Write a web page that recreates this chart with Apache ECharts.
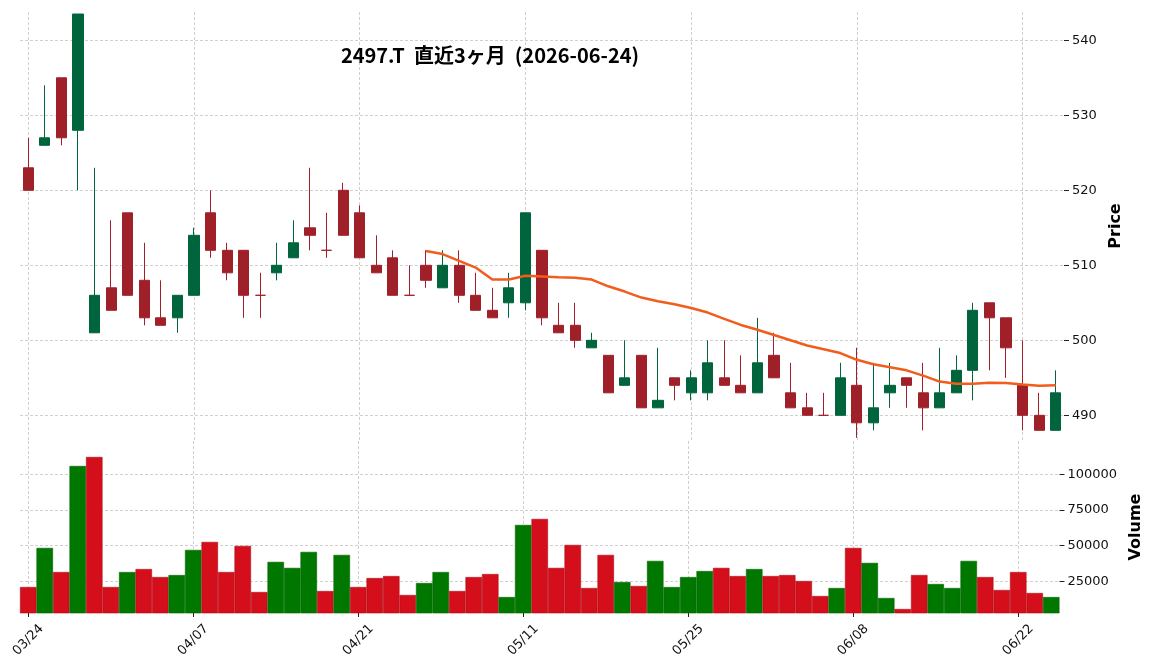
<!DOCTYPE html>
<html>
<head>
<meta charset="utf-8">
<script src="https://cdn.jsdelivr.net/npm/echarts@6/dist/echarts.min.js"></script>
<style>
html,body{margin:0;padding:0;background:#ffffff;}
#chart{width:1152px;height:670px;}
</style>
</head>
<body>
<div id="chart"></div>
<script>
// ---- data ----
const dates = ['03/24','03/25','03/26','03/27','03/30','03/31','04/01','04/02','04/03','04/06',
  '04/07','04/08','04/09','04/10','04/13','04/14','04/15','04/16','04/17','04/20',
  '04/21','04/22','04/23','04/24','04/27','04/28','04/30','05/01','05/07','05/08',
  '05/11','05/12','05/13','05/14','05/15','05/18','05/19','05/20','05/21','05/22',
  '05/25','05/26','05/27','05/28','05/29','06/01','06/02','06/03','06/04','06/05',
  '06/08','06/09','06/10','06/11','06/12','06/15','06/16','06/17','06/18','06/19',
  '06/22','06/23','06/24'];

const openP  = [523,526,535,528,501,507,517,508,503,503,
  506,517,512,512,506,509,511,515,512,520,
  517,510,511,506,510,507,510,506,504,505,
  505,512,502,502,499,498,494,498,491,495,
  493,493,495,494,493,498,493,491,490,490,
  494,489,493,495,493,491,493,496,505,503,
  494,490,488];
const closeP = [520,527,527,543.5,506,504,506,503,502,506,
  514,512,509,506,506,510,513,514,512,514,
  511,509,506,506,508,510,506,504,503,507,
  517,503,501,500,500,493,495,491,492,494,
  495,497,494,493,497,495,491,490,490,495,
  489,491,494,494,491,493,496,504,503,499,
  490,488,493];
const lowP   = [520,526,526,520,501,504,506,502,502,501,
  506,511,508,503,503,508,511,512,511,514,
  511,509,506,506,507,507,505,504,503,503,
  504,502,501,499,499,493,494,491,491,492,
  492,492,494,493,493,495,491,490,490,490,
  487,488,491,491,488,491,493,492,496,495,
  488,488,488];
const highP  = [527,534,535,543.5,523,516,517,513,508,506,
  515,520,513,512,509,513,516,523,517,521,
  518,514,512,510,512,512,512,509,507,509,
  517,512,505,505,501,498,500,498,499,495,
  496,500,500,498,503,501,497,493,493,497,
  499,497,497,495,497,499,498,505,505,503,
  500,493,496];
const volume = [21000,48400,31500,105800,112100,21000,31500,33600,28000,29400,
  47000,52600,31500,49800,17500,38600,34400,45600,18200,43500,
  21000,27300,28700,15400,23800,31500,18200,28000,30100,14000,
  64500,68700,34400,50500,20300,43500,24500,21700,39300,21000,
  28000,32200,34400,28700,33600,28700,29400,25200,14700,20300,
  48400,37900,13300,5600,29400,23100,20300,39300,28000,18900,
  31500,16800,14000];
const maStart = 24;   // first date index that has a 25-day average
const ma25 = [511.9,511.5,510.6,509.7,508.1,508.1,508.6,508.5,508.4,508.35,
  508.1,507.2,506.5,505.7,505.2,504.8,504.3,503.7,502.85,502.05,
  501.4,500.7,500.0,499.3,498.8,498.3,497.4,496.8,496.4,496.0,
  495.3,494.5,494.2,494.2,494.35,494.3,494.1,493.95,494.0];
const priceTicks  = [490,500,510,520,530,540];
const volumeTicks = [25000,50000,75000,100000];
const titleText = '2497.T  直近3ヶ月  (2026-06-24)';

// ---- styling ----
const UP = '#00643c', DOWN = '#a0202a';
const VUP = '#007800', VDOWN = '#d40e1a';
const MA_COLOR = '#f25c1c';
const GRID_LINE = {color:'#c4c4c4', type:[3,2], width:0.8};
const FONT = 'DejaVu Sans';

const candleData = dates.map((d,i) => {
  const item = {value:[openP[i], closeP[i], lowP[i], highP[i]]};
  if (openP[i] === closeP[i]) item.itemStyle = {color: DOWN, color0: DOWN, borderColor: DOWN, borderColor0: DOWN};
  return item;
});
const volData = volume.map((v,i) => {
  const up = i > 0 && closeP[i] > closeP[i-1];
  return {value: v, itemStyle:{color: up ? VUP : VDOWN, borderColor: up ? '#006200' : '#b00b15'}};
});
const maData = dates.map((d,i) => (i >= maStart ? ma25[i - maStart] : null));

const chart = echarts.init(document.getElementById('chart'), null, {renderer:'canvas'});
const option = {
  animation: false,
  backgroundColor: '#ffffff',
  graphic: [{
    type: 'text', x: 490, y: 55, z: 100,
    style: {text: titleText, align: 'center', verticalAlign: 'middle',
      font: 'bold 20px "Noto Sans CJK JP"', fill: '#000000'}
  }],
  grid: [
    {left: 20, width: 1044, top: 12, height: 428},
    {left: 20, width: 1044, top: 441, height: 172}
  ],
  xAxis: [
    {type:'category', gridIndex:0, data: dates, boundaryGap: true,
      axisLine:{show:false}, axisTick:{show:false}, axisLabel:{show:false},
      splitLine:{show:true, interval: 9, alignWithLabel: true, lineStyle: GRID_LINE}},
    {type:'category', gridIndex:1, data: dates, boundaryGap: true,
      axisLine:{show:false},
      axisTick:{show:true, interval: 9, alignWithLabel: true, length: 4, lineStyle:{color:'#222', width:1}},
      axisLabel:{show:true, interval: 9, rotate: 45, align:'center', verticalAlign:'middle', margin: 27,
        fontFamily: FONT, fontSize: 13, color:'#111'},
      splitLine:{show:true, interval: 9, alignWithLabel: true, lineStyle: GRID_LINE}}
  ],
  yAxis: [
    {type:'value', gridIndex:0, position:'right', min: 486.71, max: 543.77, scale: true,
      axisLine:{show:false},
      axisTick:{show:true, length: 5, customValues: priceTicks, lineStyle:{color:'#222', width:1}},
      axisLabel:{show:true, customValues: priceTicks, margin: 8, fontFamily: FONT, fontSize: 13, color:'#111',
        formatter: v => String(v)},
      splitLine:{show:true, lineStyle: GRID_LINE},
      name:'Price', nameLocation:'middle', nameRotate: 90, nameGap: 34,
      nameTextStyle:{fontFamily: FONT, fontSize: 16, fontWeight:'bold', color:'#000'}},
    {type:'value', gridIndex:1, position:'right', min: 2800, max: 123300,
      axisLine:{show:false},
      axisTick:{show:true, length: 5, customValues: volumeTicks, lineStyle:{color:'#222', width:1}},
      axisLabel:{show:true, customValues: volumeTicks, margin: 8, fontFamily: FONT, fontSize: 13, color:'#111',
        formatter: v => String(v)},
      splitLine:{show:true, lineStyle: GRID_LINE},
      name:'Volume', nameLocation:'middle', nameRotate: 90, nameGap: 59,
      nameTextStyle:{fontFamily: FONT, fontSize: 16, fontWeight:'bold', color:'#000'}}
  ],
  series: [
    {type:'candlestick', xAxisIndex:0, yAxisIndex:0, data: candleData, barWidth:'65%',
      itemStyle:{color: UP, color0: DOWN, borderColor: UP, borderColor0: DOWN, borderWidth: 1}},
    {type:'line', xAxisIndex:0, yAxisIndex:0, data: maData, showSymbol:false, symbol:'none',
      connectNulls:false, smooth:false, z: 5,
      lineStyle:{color: MA_COLOR, width: 2.5}},
    {type:'bar', xAxisIndex:1, yAxisIndex:1, data: volData, barCategoryGap:'0%', barGap:'0%',
      itemStyle:{borderWidth: 0.6}}
  ]
};
chart.setOption(option);
</script>
</body>
</html>
